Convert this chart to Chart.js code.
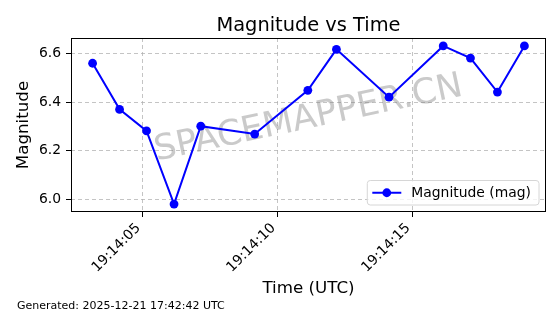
<!DOCTYPE html>
<html>
<head>
<meta charset="utf-8">
<script src="https://cdn.jsdelivr.net/npm/chart.js@4.4.1/dist/chart.umd.min.js"></script>
<style>
  html, body { margin: 0; padding: 0; background: #fff; }
  #wrap { width: 560px; height: 314px; position: relative; }
</style>
</head>
<body>
<div id="wrap"><canvas id="magChart" width="560" height="314"></canvas></div>
<script>
const times = [
  "19:14:03.15", "19:14:04.15", "19:14:05.15", "19:14:06.17", "19:14:07.16",
  "19:14:09.16", "19:14:11.13", "19:14:12.19", "19:14:14.14", "19:14:16.15",
  "19:14:17.16", "19:14:18.16", "19:14:19.16",
];
const magnitudes = [
  6.559, 6.370, 6.282, 5.982, 6.301, 6.269, 6.448, 6.616, 6.420, 6.630,
  6.580, 6.441, 6.630,
];
const xTickLabels = ["19:14:05", "19:14:10", "19:14:15"];
const yTickValues = [6.0, 6.2, 6.4, 6.6];

const FONT = "'DejaVu Sans', sans-serif";

// seconds since midnight
const toSec = (s) => {
  const p = s.split(":");
  return parseInt(p[0]) * 3600 + parseInt(p[1]) * 60 + parseFloat(p[2]);
};
const pad2 = (n) => String(n).padStart(2, "0");
const fmtTime = (v) => {
  const t = Math.round(v);
  return pad2(Math.floor(t / 3600)) + ":" + pad2(Math.floor(t / 60) % 60) + ":" + pad2(t % 60);
};

const points = times.map((t, i) => ({ x: toSec(t), y: magnitudes[i] }));

// matplotlib-like 5% margins
const xs = points.map((p) => p.x);
const xMinD = Math.min(...xs), xMaxD = Math.max(...xs);
const xPad = (xMaxD - xMinD) * 0.05;
const yMinD = Math.min(...magnitudes), yMaxD = Math.max(...magnitudes);
const yPad = (yMaxD - yMinD) * 0.05;

const framePlugin = {
  id: "frame",
  beforeDatasetsDraw(chart) {
    const { ctx, chartArea: a } = chart;
    // watermark
    ctx.save();
    ctx.translate((a.left + a.right) / 2, (a.top + a.bottom) / 2 - 6);
    ctx.rotate(-12 * Math.PI / 180);
    ctx.font = "35px " + FONT;
    ctx.fillStyle = "rgba(128,128,128,0.42)";
    ctx.textAlign = "center";
    ctx.textBaseline = "middle";
    ctx.fillText("SPACEMAPPER.CN", 0, 0);
    ctx.restore();
  },
  afterDraw(chart) {
    const { ctx, chartArea: a } = chart;
    ctx.save();
    ctx.strokeStyle = "#000";
    ctx.lineWidth = 1;
    ctx.strokeRect(a.left + 0.5, a.top + 0.5, a.right - a.left - 1, a.bottom - a.top - 1);

    // title, centred over the axes
    ctx.fillStyle = "#000";
    ctx.font = "19.4px " + FONT;
    ctx.textAlign = "center";
    ctx.textBaseline = "alphabetic";
    ctx.fillText("Magnitude vs Time", (a.left + a.right) / 2, a.top - 7);

    // legend, lower right
    const ds = chart.data.datasets[0];
    ctx.font = "13.9px " + FONT;
    const tw = ctx.measureText(ds.label).width;
    const bw = tw + 52, bh = 24.5;
    const bx = a.right - 7 - bw, by = a.bottom - 7 - bh;
    ctx.beginPath();
    ctx.roundRect(bx, by, bw, bh, 3);
    ctx.fillStyle = "rgba(255,255,255,0.8)";
    ctx.fill();
    ctx.strokeStyle = "#d6d6d6";
    ctx.stroke();
    const cy = by + bh / 2;
    ctx.strokeStyle = ds.borderColor;
    ctx.lineWidth = 2;
    ctx.beginPath();
    ctx.moveTo(bx + 5, cy);
    ctx.lineTo(bx + 34, cy);
    ctx.stroke();
    ctx.fillStyle = ds.pointBackgroundColor;
    ctx.beginPath();
    ctx.arc(bx + 19.5, cy, 4.4, 0, Math.PI * 2);
    ctx.fill();
    ctx.fillStyle = "#000";
    ctx.textAlign = "left";
    ctx.textBaseline = "middle";
    ctx.fillText(ds.label, bx + 44, cy + 0.5);

    // footer
    ctx.font = "11px " + FONT;
    ctx.textBaseline = "alphabetic";
    ctx.fillText("Generated: 2025-12-21 17:42:42 UTC", 17, 309);
    ctx.restore();
  },
};

const gridOpts = {
  color: "rgba(176,176,176,0.75)",
  tickColor: "#000",
  tickLength: 5,
  tickBorderDash: [],
};

new Chart(document.getElementById("magChart"), {
  type: "line",
  data: {
    datasets: [
      {
        label: "Magnitude (mag)",
        data: points,
        borderColor: "#0000ff",
        backgroundColor: "#0000ff",
        pointBackgroundColor: "#0000ff",
        pointBorderWidth: 0,
        pointRadius: 4.4,
        borderWidth: 2,
        tension: 0,
      },
    ],
  },
  options: {
    responsive: false,
    animation: false,
    layout: { padding: { top: 38, right: 14, left: 0, bottom: 0 } },
    plugins: {
      legend: { display: false },
      tooltip: { enabled: false },
      title: { display: false },
    },
    scales: {
      x: {
        type: "linear",
        min: xMinD - xPad,
        max: xMaxD + xPad,
        afterBuildTicks: (scale) => {
          scale.ticks = xTickLabels.map((l) => ({ value: toSec(l) }));
        },
        afterFit: (scale) => { scale.height = 102; },
        ticks: {
          color: "#000",
          font: { family: FONT, size: 13.9 },
          minRotation: 45,
          maxRotation: 45,
          padding: 3,
          labelOffset: -4,
          callback: (v) => fmtTime(v),
        },
        grid: gridOpts,
        border: { display: false, dash: [4, 3] },
        title: {
          display: true,
          text: "Time (UTC)",
          color: "#000",
          font: { family: FONT, size: 16.7 },
          padding: { top: 0, bottom: 15 },
        },
      },
      y: {
        min: yMinD - yPad,
        max: yMaxD + yPad,
        afterBuildTicks: (scale) => {
          scale.ticks = yTickValues.map((v) => ({ value: v }));
        },
        afterFit: (scale) => { scale.width = 71; },
        ticks: {
          color: "#000",
          font: { family: FONT, size: 13.9 },
          padding: 5,
          callback: (v) => v.toFixed(1),
        },
        grid: gridOpts,
        border: { display: false, dash: [4, 3] },
        title: {
          display: true,
          text: "Magnitude",
          color: "#000",
          font: { family: FONT, size: 16.7 },
          padding: { top: 14, bottom: 0 },
        },
      },
    },
  },
  plugins: [framePlugin],
});
</script>
</body>
</html>
